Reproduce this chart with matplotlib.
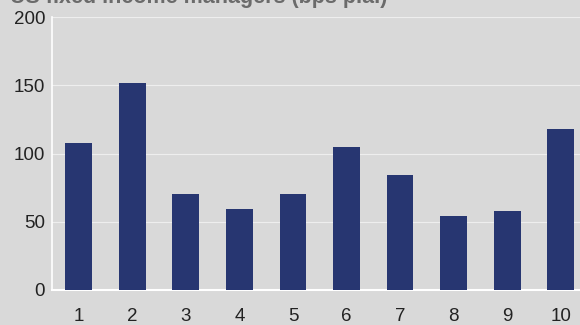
import matplotlib
matplotlib.use("Agg")
import matplotlib.pyplot as plt

plt.rcParams['font.family'] = ['Liberation Sans', 'DejaVu Sans']

# data
managers = [1, 2, 3, 4, 5, 6, 7, 8, 9, 10]
fees = [108, 152, 70, 59, 70, 105, 84, 54, 58, 118]
title = "US fixed income managers (bps p.a.)"

bg = '#d9d9d9'
bar_col = '#273671'

fig = plt.figure(figsize=(5.8, 3.25), dpi=100, facecolor=bg)
ax = fig.add_axes([52 / 580, 35 / 325, 1 - 52 / 580, 273 / 325], facecolor=bg)

ax.bar(managers, fees, width=0.5, color=bar_col, zorder=3)

ax.set_xlim(0.5, 10.36)
ax.set_ylim(0, 200)
ax.set_yticks([0, 50, 100, 150, 200])
ax.set_xticks(managers)

ax.grid(axis='y', color='#eeeeee', linewidth=0.8, zorder=0)
for side in ['top', 'right']:
    ax.spines[side].set_visible(False)
ax.spines['left'].set_color('white')
ax.spines['bottom'].set_color('white')
ax.spines['left'].set_linewidth(1.2)
ax.spines['bottom'].set_linewidth(1.5)
ax.tick_params(axis='both', length=0, labelsize=13.5, colors='#222222')
ax.tick_params(axis='x', pad=13)
ax.tick_params(axis='y', pad=5)

# title sits mostly above the canvas, as in the original crop
fig.text(10 / 580, 1 - 3 / 325, title, fontsize=15.5, fontweight='bold',
         color='#6b6b6b', ha='left', va='baseline')

fig.savefig("out.png", dpi=100, facecolor=bg)
